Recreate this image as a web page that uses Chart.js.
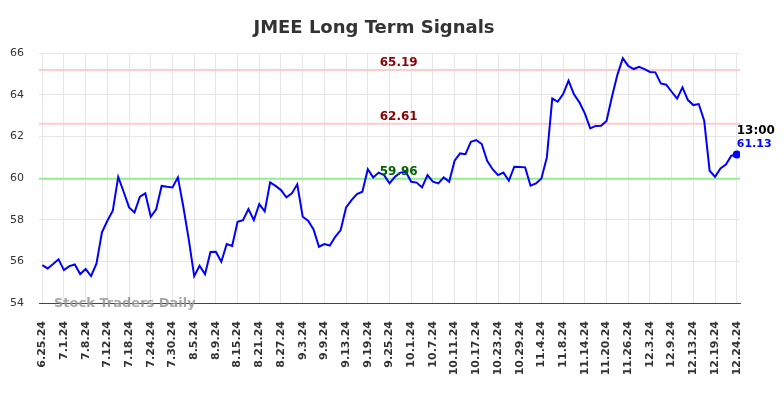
<!DOCTYPE html>
<html lang="en">
<head>
<meta charset="UTF-8">
<title>JMEE Long Term Signals</title>
<style>
  html, body { margin: 0; padding: 0; background: #fff; }
  canvas { display: block; }
</style>
</head>
<body>
<canvas id="chart" width="784" height="398"></canvas>
<script src="https://cdn.jsdelivr.net/npm/chart.js"></script>
<script>
// tick labels, one every 4 trading days
var tickLabels = ['6.25.24', '7.1.24', '7.8.24', '7.12.24', '7.18.24', '7.24.24', '7.30.24', '8.5.24',
    '8.9.24', '8.15.24', '8.21.24', '8.27.24', '9.3.24', '9.9.24', '9.13.24', '9.19.24', '9.25.24',
    '10.1.24', '10.7.24', '10.11.24', '10.17.24', '10.23.24', '10.29.24', '11.4.24', '11.8.24',
    '11.14.24', '11.20.24', '11.26.24', '12.3.24', '12.9.24', '12.13.24', '12.19.24', '12.24.24'];

// daily closes
var prices = [
    55.82, 55.66, 55.87, 56.10, 55.58, 55.77, 55.85, 55.39, 55.63, 55.29,
    55.90, 57.39, 57.95, 58.43, 60.05, 59.34, 58.59, 58.35, 59.10, 59.26,
    58.14, 58.50, 59.62, 59.58, 59.55, 60.03, 58.62, 57.05, 55.29, 55.79,
    55.38, 56.45, 56.46, 55.98, 56.83, 56.74, 57.90, 57.98, 58.51, 57.98,
    58.75, 58.40, 59.79, 59.62, 59.42, 59.07, 59.26, 59.70, 58.14, 57.95,
    57.53, 56.70, 56.83, 56.76, 57.18, 57.50, 58.59, 58.94, 59.23, 59.34,
    60.42, 60.03, 60.26, 60.14, 59.74, 60.06, 60.26, 60.30, 59.82, 59.78,
    59.55, 60.14, 59.82, 59.74, 60.03, 59.82, 60.83, 61.18, 61.14, 61.74,
    61.82, 61.63, 60.83, 60.42, 60.14, 60.26, 59.87, 60.54, 60.53, 60.51,
    59.63, 59.74, 59.98, 60.99, 63.82, 63.66, 64.03, 64.67, 64.02, 63.63,
    63.10, 62.38, 62.50, 62.51, 62.74, 63.90, 64.95, 65.75, 65.38, 65.23,
    65.34, 65.23, 65.09, 65.07, 64.54, 64.48, 64.14, 63.81, 64.35, 63.74,
    63.50, 63.55, 62.75, 60.35, 60.06, 60.46, 60.65, 61.07, 61.13
];

// signal levels
var levelValues = [65.19, 62.61, 59.96];
var levelLines = ['#ffcccc', '#ffcccc', '#90ee90'];
var levelText = ['#8b0000', '#8b0000', '#006400'];

var lastTime = '13:00';
var xMin = -0.6, xMax = prices.length - 1 + 0.6;
var last = prices.length - 1;

var datasets = [{
    data: prices.map(function (v, i) { return { x: i, y: v }; }),
    borderColor: '#0000ff',
    backgroundColor: '#0000ff',
    borderWidth: 2,
    tension: 0,
    pointRadius: function (c) { return c.dataIndex === last ? 4 : 0; },
    pointBorderWidth: 0,
    order: 0
}];
levelValues.forEach(function (v, k) {
    datasets.push({
        data: [{ x: xMin, y: v }, { x: xMax, y: v }],
        borderColor: levelLines[k],
        borderWidth: 2,
        pointRadius: 0,
        order: 1
    });
});

var extras = {
    id: 'extras',
    afterDatasetsDraw: function (chart) {
        var ctx = chart.ctx, xs = chart.scales.x, ys = chart.scales.y;
        ctx.save();
        // title
        ctx.font = 'bold 18px "DejaVu Sans"';
        ctx.fillStyle = '#333';
        ctx.textAlign = 'center';
        ctx.textBaseline = 'alphabetic';
        ctx.fillText('JMEE Long Term Signals', 374, 33);

        // level labels
        ctx.font = 'bold 12px "DejaVu Sans"';
        levelValues.forEach(function (v, k) {
            ctx.fillStyle = levelText[k];
            ctx.fillText(v.toFixed(2), xs.getPixelForValue(65.7), ys.getPixelForValue(v) - 4);
        });

        // watermark
        ctx.font = 'bold 13px "DejaVu Sans"';
        ctx.fillStyle = 'rgba(150,150,150,0.85)';
        ctx.textAlign = 'left';
        ctx.fillText('Stock Traders Daily', 54, 306.5);

        // last value
        var px = xs.getPixelForValue(last), py = ys.getPixelForValue(prices[last]);
        ctx.font = 'bold 12px "DejaVu Sans"';
        ctx.fillStyle = '#000';
        ctx.fillText(lastTime, px, py - 20);
        ctx.font = 'bold 11px "DejaVu Sans"';
        ctx.fillStyle = '#0000ff';
        ctx.fillText(prices[last].toFixed(2), px, py - 7);
        ctx.restore();
    }
};

new Chart(document.getElementById('chart'), {
    type: 'line',
    data: { datasets: datasets },
    options: {
        responsive: false,
        animation: false,
        devicePixelRatio: 1,
        layout: { padding: { left: 0, right: 44, top: 53, bottom: 0 } },
        plugins: { legend: { display: false }, title: { display: false }, tooltip: { enabled: false } },
        scales: {
            x: {
                type: 'linear',
                min: xMin,
                max: xMax,
                afterBuildTicks: function (s) {
                    s.ticks = tickLabels.map(function (_, k) { return { value: k * 4 }; });
                },
                afterFit: function (s) { s.height = 95; },
                ticks: {
                    autoSkip: false,
                    maxRotation: 90,
                    minRotation: 90,
                    padding: 18,
                    color: '#333',
                    font: { family: 'DejaVu Sans', size: 11, weight: 'bold' },
                    callback: function (v) { return tickLabels[Math.round(v / 4)]; }
                },
                grid: { color: '#e6e6e6', drawTicks: false },
                border: { color: '#444', width: 1 }
            },
            y: {
                min: 54,
                max: 66,
                afterFit: function (s) { s.width = 39; },
                ticks: {
                    stepSize: 2,
                    padding: 15,
                    color: '#333',
                    font: { family: 'DejaVu Sans', size: 11 }
                },
                grid: { color: '#e6e6e6', drawTicks: false },
                border: { display: false }
            }
        }
    },
    plugins: [extras]
});
</script>
</body>
</html>
